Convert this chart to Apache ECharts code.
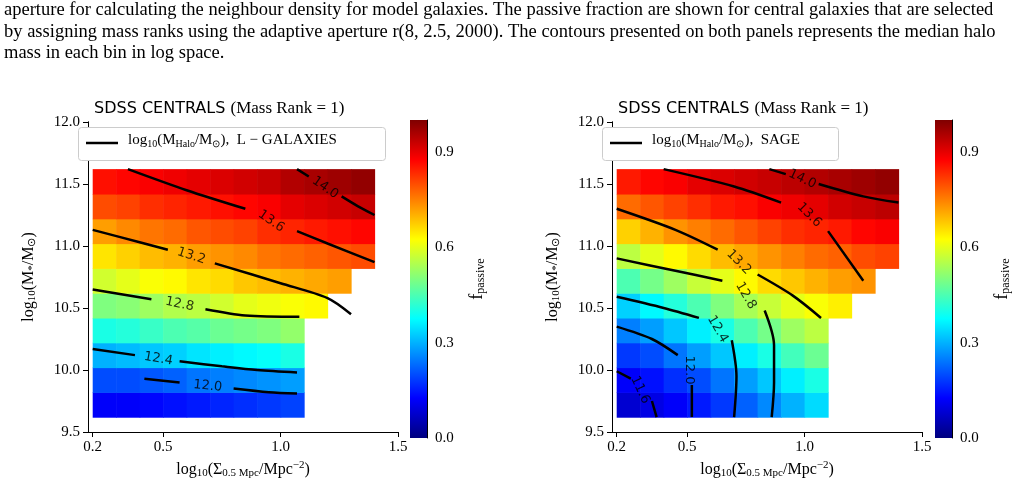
<!DOCTYPE html>
<html><head><meta charset="utf-8">
<script src="https://cdn.jsdelivr.net/npm/echarts@6/dist/echarts.min.js"></script>
<style>html,body{margin:0;padding:0;background:#fff}#c{width:1017px;height:484px}</style>
</head><body><div id="c"></div>
<script>
// ---- data ----
const xStarts = [0.2,0.3,0.4,0.5,0.6,0.7,0.8,0.9,1.0,1.1,1.2,1.3];
const yStarts = [9.62,9.82,10.02,10.22,10.42,10.62,10.82,11.02,11.22,11.42];
const fracLeft = [
 [0.12,0.12,0.13,0.14,0.15,0.16,0.17,0.18,0.19],
 [0.20,0.20,0.21,0.22,0.24,0.25,0.26,0.27,0.28],
 [0.30,0.31,0.32,0.33,0.35,0.36,0.37,0.38,0.40],
 [0.40,0.41,0.43,0.45,0.46,0.48,0.49,0.50,0.52],
 [0.50,0.51,0.53,0.55,0.56,0.58,0.60,0.61,0.62,0.63],
 [0.58,0.60,0.62,0.63,0.65,0.66,0.68,0.69,0.70,0.71,0.72],
 [0.65,0.67,0.69,0.70,0.72,0.73,0.74,0.76,0.77,0.78,0.79,0.80],
 [0.72,0.74,0.76,0.77,0.79,0.80,0.81,0.83,0.84,0.85,0.86,0.87],
 [0.80,0.81,0.83,0.84,0.85,0.86,0.87,0.88,0.90,0.91,0.92,0.93],
 [0.86,0.87,0.88,0.89,0.90,0.91,0.92,0.93,0.95,0.96,0.97,0.98]];
const fracRight = [
 [0.08,0.10,0.12,0.15,0.18,0.22,0.26,0.30,0.34],
 [0.12,0.14,0.17,0.20,0.24,0.28,0.32,0.36,0.40],
 [0.18,0.20,0.24,0.28,0.32,0.36,0.40,0.44,0.48],
 [0.25,0.28,0.32,0.36,0.40,0.45,0.49,0.53,0.56],
 [0.33,0.37,0.41,0.45,0.50,0.54,0.57,0.60,0.62,0.64],
 [0.45,0.49,0.53,0.57,0.60,0.63,0.66,0.68,0.70,0.72,0.73],
 [0.56,0.60,0.63,0.66,0.69,0.71,0.73,0.75,0.77,0.78,0.80,0.81],
 [0.67,0.70,0.73,0.75,0.77,0.79,0.81,0.83,0.84,0.85,0.87,0.88],
 [0.77,0.79,0.81,0.83,0.85,0.86,0.88,0.89,0.90,0.92,0.93,0.94],
 [0.85,0.87,0.88,0.90,0.91,0.92,0.93,0.94,0.95,0.96,0.97,0.98]];
const contoursLeft = [
 [[1.07,11.62],[1.12,11.56],null,[1.26,11.4],[1.33,11.32],[1.4,11.25]],
 [[0.35,11.62],[0.6,11.45],[0.85,11.3],null,[1.07,11.12],[1.2,11.02],[1.4,10.87]],
 [[0.2,11.13],[0.4,11.03],[0.52,10.97],null,[0.72,10.86],[1.0,10.7],[1.2,10.58],[1.3,10.45]],
 [[0.2,10.65],[0.45,10.57],null,[0.68,10.49],[0.85,10.44],[1.08,10.43]],
 [[0.2,10.17],[0.38,10.12],null,[0.57,10.07],[0.75,10.03],[0.9,10.0],[1.07,9.98]],
 [[0.42,9.93],[0.57,9.9],null,[0.8,9.85],[0.95,9.82],[1.07,9.81]]];
const labelsLeft = [[1.19,11.47,'14.0',-35],[0.96,11.2,'13.6',-35],[0.62,10.92,'13.2',-18],
 [0.57,10.53,'12.8',-12],[0.48,10.09,'12.4',-10],[0.69,9.87,'12.0',-6]];
const contoursRight = [
 [[0.85,11.62],[0.92,11.58],null,[1.06,11.5],[1.25,11.4],[1.4,11.35]],
 [[0.4,11.62],[0.7,11.48],[0.9,11.35],null,[1.1,11.12],[1.25,10.72]],
 [[0.2,11.3],[0.45,11.13],[0.63,10.97],null,[0.8,10.77],[0.95,10.6],[1.07,10.42]],
 [[0.2,10.9],[0.45,10.8],[0.65,10.72],null,[0.83,10.48],[0.87,10.2],[0.87,9.9],[0.86,9.62]],
 [[0.2,10.59],[0.4,10.5],[0.55,10.42],null,[0.69,10.24],[0.71,9.95],[0.7,9.62]],
 [[0.2,10.35],[0.35,10.25],[0.46,10.12],null,[0.52,9.88],[0.52,9.62]],
 [[0.2,9.99],[0.26,9.93],null,[0.35,9.75],[0.37,9.62]]];
const labelsRight = [[0.99,11.54,'14.0',-25],[1.02,11.25,'13.6',-45],[0.72,10.87,'13.2',-45],
 [0.75,10.6,'12.8',-60],[0.63,10.33,'12.4',-60],[0.51,10.0,'12.0',-90],[0.3,9.84,'11.6',-65]];
const xTicks = [0.2,0.5,1.0,1.5];
const cbTicks = [0,0.3,0.6,0.9];
const jet = ['#00007f','#0000ff','#007fff','#00ffff','#7fff7f','#ffff00','#ff7f00','#ff0000','#7f0000'];

// ---- build ----
function cells(frac){const out=[];frac.forEach((row,j)=>row.forEach((v,i)=>out.push([xStarts[i],yStarts[j],v])));return out;}
const chart = echarts.init(document.getElementById('c'));
const serif = 'Liberation Serif';
const grids=[], xAxes=[], yAxes=[], series=[], graphics=[], heatIdx=[];
const panels=[{left:88,cb:410,frac:fracLeft,cont:contoursLeft,lab:labelsLeft,leg:'L − GALAXIES',legW:307},
              {left:612,cb:935,frac:fracRight,cont:contoursRight,lab:labelsRight,leg:'SAGE',legW:236}];
panels.forEach((p,k)=>{
  grids.push({left:p.left,top:122,width:310,height:316});
  grids.push({left:p.cb,top:120,width:17,height:318});
  const gi=k*2;
  xAxes.push({type:'value',gridIndex:gi,min:0.18,max:1.5,
    name:'log{s|10}(Σ{s|0.5 Mpc}/Mpc{u|−2})',nameLocation:'middle',nameGap:28,
    nameTextStyle:{fontFamily:serif,fontSize:16,color:'#000',rich:{s:{fontSize:11,verticalAlign:'bottom',padding:[8,0,0,0],fontFamily:serif},u:{fontSize:11,verticalAlign:'top',padding:[0,0,8,0],fontFamily:serif}}},
    splitLine:{show:false},axisLine:{onZero:false,lineStyle:{color:'#000'}},
    axisTick:{customValues:xTicks,lineStyle:{color:'#000'}},
    axisLabel:{customValues:xTicks,formatter:v=>v.toFixed(1),fontFamily:serif,fontSize:15,color:'#000'}});
  xAxes.push({type:'category',gridIndex:gi+1,data:[''],show:false});
  yAxes.push({type:'value',gridIndex:gi,min:9.5,max:12.0,interval:0.5,
    name:'log{s|10}(M{s|*}/M{s|⊙})',nameLocation:'middle',nameGap:50,nameRotate:90,
    nameTextStyle:{fontFamily:serif,fontSize:16,color:'#000',rich:{s:{fontSize:11,verticalAlign:'bottom',padding:[8,0,0,0],fontFamily:serif}}},
    splitLine:{show:false},axisLine:{onZero:false,lineStyle:{color:'#000'}},axisTick:{lineStyle:{color:'#000'}},
    axisLabel:{formatter:v=>v.toFixed(1),fontFamily:serif,fontSize:15,color:'#000'}});
  yAxes.push({type:'value',gridIndex:gi+1,min:0,max:1,position:'right',
    name:'f{s|passive}',nameLocation:'middle',nameGap:40,nameRotate:90,
    nameTextStyle:{fontFamily:serif,fontSize:18,color:'#000',rich:{s:{fontSize:12,verticalAlign:'bottom',padding:[8,0,0,0],fontFamily:serif}}},
    splitLine:{show:false},axisLine:{show:true,lineStyle:{color:'#000'}},
    axisTick:{customValues:cbTicks,lineStyle:{color:'#000'}},
    axisLabel:{customValues:cbTicks,formatter:v=>v.toFixed(1),fontFamily:serif,fontSize:15,color:'#000'}});
  xAxes.push({type:'value',gridIndex:gi,position:'top',min:0,max:1,axisLine:{show:true,lineStyle:{color:'#000'}},axisTick:{show:false},axisLabel:{show:false},splitLine:{show:false}});
  yAxes.push({type:'value',gridIndex:gi,position:'right',min:0,max:1,axisLine:{show:true,lineStyle:{color:'#000'}},axisTick:{show:false},axisLabel:{show:false},splitLine:{show:false}});
  const xi=k*3, yi=k*3;
  heatIdx.push(series.length);
  series.push({type:'custom',xAxisIndex:xi,yAxisIndex:yi,data:cells(p.frac),z:1,
    renderItem:(params,api)=>{const a=api.coord([api.value(0),api.value(1)]),b=api.coord([api.value(0)+0.1,api.value(1)+0.2]);
      return {type:'rect',shape:{x:a[0],y:b[1],width:b[0]-a[0]+0.6,height:a[1]-b[1]+0.6},style:{fill:api.visual('color')}};},
    encode:{x:0,y:1}});
  p.cont.forEach(c=>series.push({type:'line',xAxisIndex:xi,yAxisIndex:yi,data:c,smooth:0.3,connectNulls:false,symbol:'none',
    lineStyle:{color:'#000',width:2.5},z:3,silent:true}));
  series.push({type:'scatter',xAxisIndex:xi,yAxisIndex:yi,symbolSize:0,z:4,silent:true,
    data:p.lab.map(l=>({value:[l[0],l[1]],label:{rotate:l[3],formatter:l[2]}})),
    label:{show:true,position:'inside',fontFamily:'DejaVu Sans',fontSize:13,color:'#000'}});
  series.push({type:'bar',xAxisIndex:xi+1,yAxisIndex:yi+1,data:[1],barWidth:'100%',silent:true,
    itemStyle:{color:new echarts.graphic.LinearGradient(0,1,0,0,jet.map((c,i)=>({offset:i/(jet.length-1),color:c})))}});
  graphics.push({type:'rect',left:p.left-10,top:127,shape:{width:p.legW,height:33,r:3},style:{fill:'#fff',stroke:'#ccc',lineWidth:1},z:10});
  graphics.push({type:'line',shape:{x1:p.left-2,y1:143,x2:p.left+30,y2:143},style:{stroke:'#000',lineWidth:2.5},z:11});
  graphics.push({type:'text',left:p.left+40,top:133,z:11,style:{text:'log{s|10}(M{s|Halo}/M{s|⊙}),  '+p.leg,font:'15px '+serif,fill:'#000',
    rich:{s:{fontSize:10,fontFamily:serif,verticalAlign:'bottom',padding:[7,0,0,0]}}}});
  graphics.push({type:'text',left:p.left+6,top:100,z:11,style:{text:'{a|SDSS CENTRALS }{b|(Mass Rank = 1)}',
    rich:{a:{fontFamily:'DejaVu Sans',fontSize:16,fill:'#000'},b:{fontFamily:serif,fontSize:17,fill:'#000'}}}});
});
const caption=['aperture for calculating the neighbour density for model galaxies. The passive fraction are shown for central galaxies that are selected',
 'by assigning mass ranks using the adaptive aperture r(8, 2.5, 2000). The contours presented on both panels represents the median halo',
 'mass in each bin in log space.'];
caption.forEach((t,i)=>graphics.push({type:'text',left:4,top:1+i*21.5,style:{text:t,font:'18.5px '+serif,fill:'#000'}}));
chart.setOption({animation:false,grid:grids,xAxis:xAxes,yAxis:yAxes,series,graphic:graphics,
  visualMap:[{type:'continuous',show:false,min:0,max:1,dimension:2,seriesIndex:heatIdx,inRange:{color:jet}}]});
</script></body></html>
